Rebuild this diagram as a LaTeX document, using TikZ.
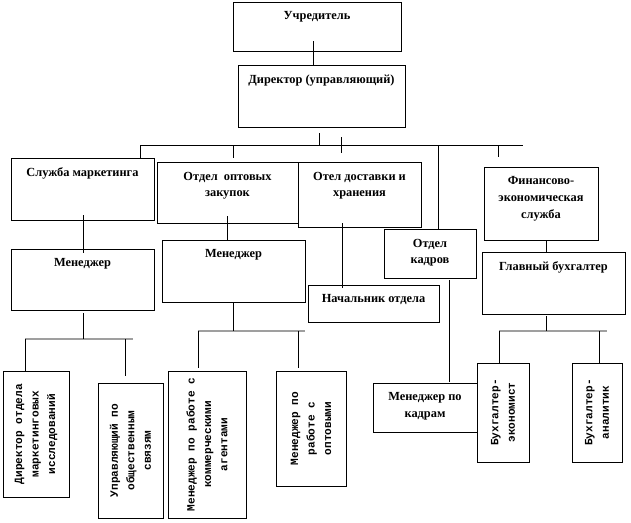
\documentclass[tikz,border=0pt]{standalone}
\usepackage{fontspec}
\setmainfont{Liberation Serif}
\newfontfamily\monofont{Liberation Mono}
\newlength{\pxu}\setlength{\pxu}{0.025cm}
% text at the top of a box: width, height, text
\newcommand{\toptext}[3]{\parbox[c][#2\pxu][t]{#1\pxu}{\centering\vspace*{7pt}#3}}
% text in the middle of a box turned on its side
\newcommand{\sidetext}[3]{\parbox[c][#2\pxu][c]{#1\pxu}{\centering #3}}
\begin{document}
\begin{tikzpicture}[x=0.025cm,y=-0.025cm,line width=0.6pt,
	box/.style={draw,inner sep=0pt,font=\bfseries\fontsize{8.8}{12}\selectfont},
	vbox/.style={draw,inner sep=0pt,rotate=90,font=\monofont\bfseries\fontsize{7.9}{11.7}\selectfont},
	bus/.style={gray!75,line width=1.4pt}]
	\useasboundingbox (0,0) rectangle (631,522);
	% boxes
	\node[box] (founder) at (317,26.5) {\toptext{168}{49}{Учредитель}};
	\node[box] (director) at (321.5,96) {\toptext{167}{62}{Директор (управляющий)}};
	\node[box] (marketing) at (82.5,189) {\toptext{143}{62}{Служба маркетинга}};
	\node[box] (wholesale) at (227.5,192.5) {\toptext{141}{61}{Отдел\ \ оптовых\\закупок}};
	\node[box] (delivery) at (359.5,194.5) {\toptext{123}{65}{Отел доставки и\\хранения}};
	\node[box] (personnel) at (430,253.5) {\toptext{92}{49}{Отдел\\кадров}};
	\node[box] (finance) at (541,203.5) {\toptext{114}{73}{Финансово-\\экономическая\\служба}};
	\node[box] (mgrA) at (82.5,279.5) {\toptext{143}{61}{Менеджер}};
	\node[box] (mgrB) at (233.5,271) {\toptext{143}{62}{Менеджер}};
	\node[box] (head) at (373.5,303.5) {\toptext{131}{37}{Начальник отдела}};
	\node[box] (accountant) at (553.5,283) {\toptext{143}{62}{Главный бухгалтер}};
	\node[box] (hrmgr) at (425,407.5) {\toptext{104}{49}{Менеджер по\\кадрам}};
	\node[vbox] (research) at (36,434) {\sidetext{126}{66}{Директор отдела\\маркетинговых\\исследований}};
	\node[vbox] (pr) at (130.5,450.5) {\sidetext{135}{65}{Управляющий по\\общественным\\связям}};
	\node[vbox] (agents) at (207,444.5) {\sidetext{147}{78}{Менеджер по работе с\\коммерческими\\агентами}};
	\node[vbox] (wholesalers) at (311,428.5) {\sidetext{115}{70}{Менеджер по\\работе с\\оптовыми}};
	\node[vbox] (economist) at (503,412.5) {\sidetext{99}{52}{Бухгалтер-\\экономист}};
	\node[vbox] (analyst) at (597,412.5) {\sidetext{99}{50}{Бухгалтер-\\аналитик}};
	% top
	\draw (founder.south) ++(-4,-10) coordinate (f1) -- (f1 |- director.north);
	\draw (director.south) ++(-2.5,6) -- ++(0,12);
	\coordinate (busL) at (140,145);
	\coordinate (busR) at (523,145);
	\draw (busL) -- (busR);
	\draw (busL) -- (busL |- marketing.north);
	\draw (233,145) -- ++(0,13);
	\draw (341,137) -- ++(0,16);
	\draw (438,145) -- (438,145 |- personnel.north);
	\draw (498,145) -- ++(0,12);
	% marketing
	\draw (marketing.south) ++(0.5,-5) -- ++(0,38);
	\draw[bus] (25,339) -- (133,339);
	\draw (mgrA.south) ++(0.5,3) -- ++(0,26);
	\draw (25,339) -- ++(0,32);
	\draw (125,339) -- ++(0,37);
	% wholesale
	\draw (wholesale.south) ++(-0.5,-7) -- ++(0,24);
	\draw[bus] (198,331) -- (305,331);
	\draw (mgrB.south) ++(-0.5,0) -- ++(0,29);
	\draw (198,331) -- ++(0,37);
	\draw (298,331) -- ++(0,37);
	% delivery, personnel
	\draw (delivery.south) ++(-17.5,-4) -- ++(0,65);
	\draw (personnel.south) ++(19,2) -- ++(0,102);
	% finance
	\draw (finance.south) ++(5,0) -- ++(0,12);
	\draw[bus] (499,331) -- (607,331);
	\draw (accountant.south) ++(-7.5,2) -- ++(0,15);
	\draw (499,331) -- ++(0,32);
	\draw (599,331) -- ++(0,32);
\end{tikzpicture}
\end{document}
